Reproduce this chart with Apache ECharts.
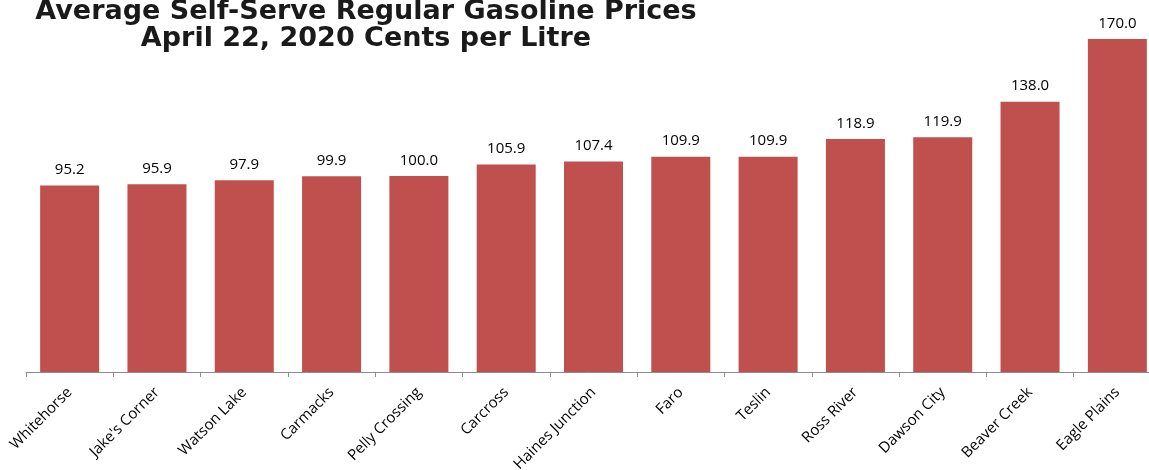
<!DOCTYPE html>
<html><head><meta charset="utf-8">
<script src="https://cdn.jsdelivr.net/npm/echarts@6/dist/echarts.min.js"></script>
<style>html,body{margin:0;padding:0;background:#fff}#c{width:1149px;height:470px}</style>
</head><body><div id="c"></div>
<script>
var categories = ["Whitehorse","Jake's Corner","Watson Lake","Carmacks","Pelly Crossing","Carcross","Haines Junction","Faro","Teslin","Ross River","Dawson City","Beaver Creek","Eagle Plains"];
var prices = [95.2,95.9,97.9,99.9,100.0,105.9,107.4,109.9,109.9,118.9,119.9,138.0,170.0];
var titleText = "Average Self-Serve Regular Gasoline Prices\nApril 22, 2020 Cents per Litre";

var chart = echarts.init(document.getElementById('c'));
chart.setOption({
  animation:false,
  title:{text:titleText,left:361,top:-7,textAlign:'center',
    textStyle:{fontFamily:'DejaVu Sans',fontWeight:'bold',fontSize:27,lineHeight:27,color:'#1a1a1a'}},
  grid:{left:26,width:1135,top:39,bottom:98,containLabel:false,outerBoundsMode:'none'},
  xAxis:{type:'category',data:categories,
    axisLine:{lineStyle:{color:'#8c8c8c',width:1}},
    axisTick:{show:true,length:5,lineStyle:{color:'#8c8c8c'}},
    axisLabel:{rotate:45,interval:0,margin:18,fontFamily:'Open Sans',fontSize:15,color:'#000'}},
  yAxis:{type:'value',min:0,max:170,show:false,splitLine:{show:false}},
  series:[{type:'bar',data:prices,barWidth:'67.6%',itemStyle:{color:'#C0504D'},
    label:{show:true,position:'top',distance:8,fontFamily:'Open Sans',fontSize:15,color:'#000',
      formatter:function(p){return p.value.toFixed(1);}}}]
});
</script></body></html>
